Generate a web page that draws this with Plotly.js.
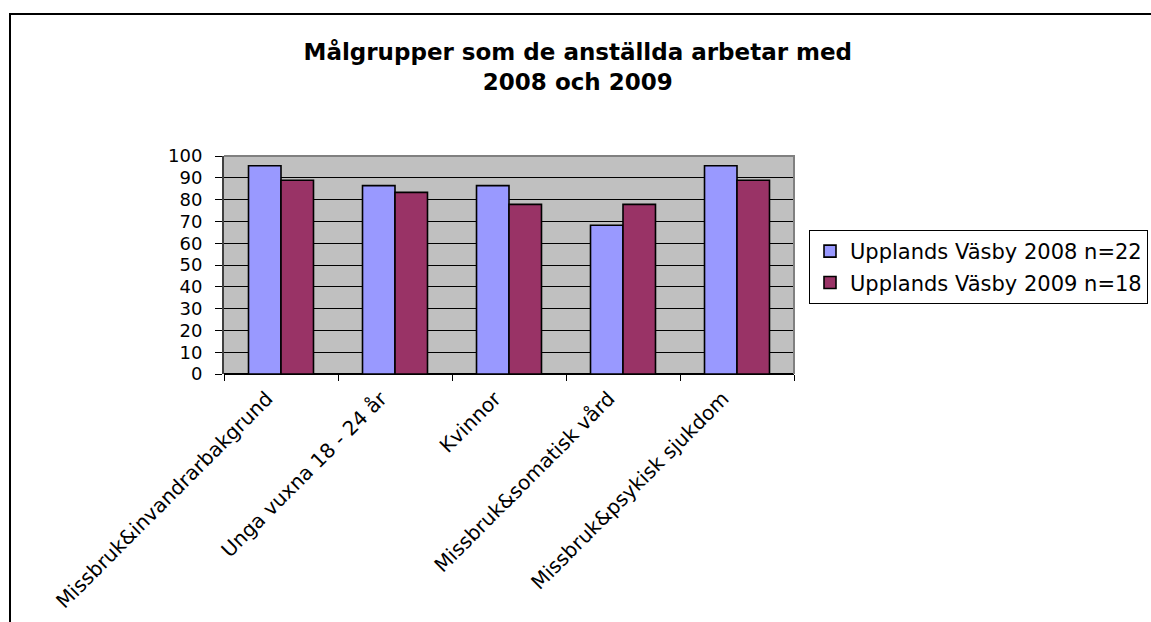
<!DOCTYPE html>
<html>
<head>
<meta charset="utf-8">
<script src="https://cdn.plot.ly/plotly-3.0.1.min.js"></script>
<style>
  html, body { margin: 0; padding: 0; background: #ffffff; }
  #chart { width: 1151px; height: 622px; }
</style>
</head>
<body>
<div id="chart"></div>
<script>
const categories = [
  "Missbruk&invandrarbakgrund",
  "Unga vuxna 18 - 24 år",
  "Kvinnor",
  "Missbruk&somatisk vård",
  "Missbruk&psykisk sjukdom"
];
const series2008Name = "Upplands Väsby 2008 n=22";
const series2009Name = "Upplands Väsby 2009 n=18";
const values2008 = [95.5, 86.4, 86.4, 68.2, 95.5];
const values2009 = [88.9, 83.3, 77.8, 77.8, 88.9];
const yTickValues = [0, 10, 20, 30, 40, 50, 60, 70, 80, 90, 100];
const titleText = "Målgrupper som de anställda arbetar med<br>2008 och 2009";

const FONT = "DejaVu Sans, Verdana, sans-serif";

const traces = [
  {
    type: "bar",
    name: series2008Name,
    x: categories,
    y: values2008,
    legendgroup: "a",
    marker: { color: "#9999FF", line: { color: "#000000", width: 1.6 } },
    hoverinfo: "x+y"
  },
  {
    type: "bar",
    name: series2009Name,
    x: categories,
    y: values2009,
    legendgroup: "b",
    marker: { color: "#993366", line: { color: "#000000", width: 1.6 } },
    hoverinfo: "x+y"
  }
];

const layout = {
  width: 1151,
  height: 622,
  margin: { l: 224, r: 357, t: 156, b: 248, pad: 0, autoexpand: false },
  paper_bgcolor: "#ffffff",
  plot_bgcolor: "#C0C0C0",
  font: { family: FONT, color: "#000000", size: 18 },
  title: {
    text: titleText,
    font: { family: FONT, size: 23, color: "#000000", weight: "bold" },
    xref: "container",
    x: 0.502,
    xanchor: "center",
    yref: "container",
    y: 1 - 60 / 622,
    yanchor: "top"
  },
  barmode: "group",
  bargap: 0.43,
  bargroupgap: 0,
  showlegend: true,
  legend: {
    x: (809 - 224) / 570,
    xanchor: "left",
    y: (374 - 230) / 218,
    yanchor: "top",
    bgcolor: "#ffffff",
    bordercolor: "#000000",
    borderwidth: 1,
    font: { family: FONT, size: 21, color: "#000000" },
    traceorder: "grouped",
    tracegroupgap: 1
  },
  xaxis: {
    type: "category",
    tickson: "boundaries",
    ticks: "outside",
    ticklen: 6,
    tickwidth: 1,
    tickcolor: "#000000",
    tickangle: -45,
    ticklabelshift: -14,
    ticklabelstandoff: 8,
    tickfont: { family: FONT, size: 20, color: "#000000" },
    showgrid: false,
    showline: false,
    zeroline: false,
    automargin: false,
    fixedrange: true
  },
  yaxis: {
    range: [0, 100],
    tickmode: "array",
    tickvals: yTickValues,
    ticktext: yTickValues.map(String),
    ticks: "outside",
    ticklen: 7,
    tickwidth: 1,
    tickcolor: "#000000",
    ticklabelstandoff: 9,
    tickfont: { family: FONT, size: 18, color: "#000000" },
    showgrid: true,
    gridcolor: "#000000",
    gridwidth: 1,
    zeroline: true,
    zerolinecolor: "#000000",
    zerolinewidth: 1.5,
    showline: true,
    linecolor: "#404040",
    linewidth: 2,
    automargin: false,
    fixedrange: true
  },
  shapes: [
    {
      type: "path",
      xref: "paper",
      yref: "paper",
      path: "M 0,1 L 1,1 L 1,0",
      line: { color: "#808080", width: 2 },
      layer: "above"
    },
    {
      type: "rect",
      xref: "paper",
      yref: "paper",
      x0: (10 - 224) / 570,
      x1: (1170 - 224) / 570,
      y0: (374 - 640) / 218,
      y1: (374 - 14) / 218,
      line: { color: "#000000", width: 2 },
      fillcolor: "rgba(0,0,0,0)",
      layer: "above"
    }
  ]
};

Plotly.newPlot("chart", traces, layout, { displayModeBar: false, staticPlot: true });
</script>
</body>
</html>
